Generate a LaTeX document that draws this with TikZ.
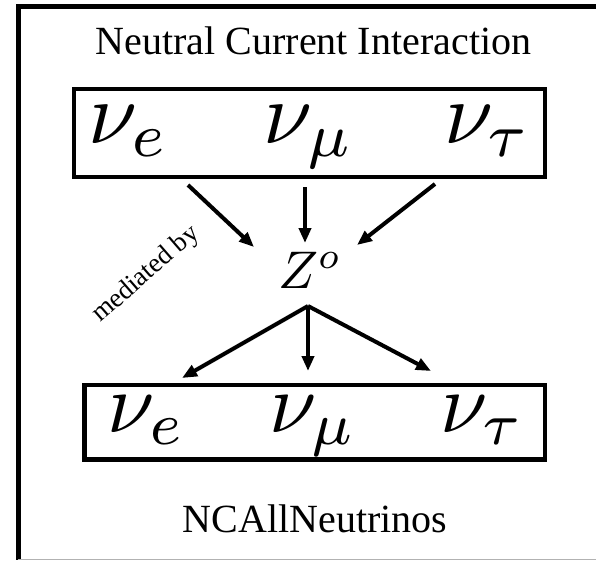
\documentclass[tikz,border=0pt]{standalone}
\usepackage{graphicx}
\usepackage{fontspec}
\setmainfont{Liberation Serif}
\usetikzlibrary{arrows.meta}
\newcommand{\bignu}[2]{\scalebox{#1}{$#2$}}
\tikzset{
  frameline/.style={line width=5pt},
  nubox/.style={draw, line width=4.5pt},
  arr/.style={line width=4pt, -{Triangle[length=15pt,width=12pt]}},
  bigtext/.style={font=\fontsize{40}{44}\selectfont, inner sep=0pt, anchor=base},
  nunode/.style={inner sep=0pt, anchor=base},
}
\begin{document}
\begin{tikzpicture}[x=1pt,y=-1pt]
\useasboundingbox (0,0) rectangle (596,560);
% outer frame (cropped)
\draw[frameline] (596,6) -- (18,6) -- (18,560);
\draw[line width=1pt, gray!60] (18,559) -- (596,559);
% title
\node[bigtext] (title) at (313.5,54) {Neutral Current Interaction};
% upper box
\draw[nubox] (74,89) rectangle (545,177);
\node[nunode] (ue) at (129,143) {\bignu{8.8}{\nu_e}};
\node[nunode] (um) at (309,143) {\bignu{8.8}{\nu_\mu}};
\node[nunode] (ut) at (488,143) {\bignu{8.8}{\nu_\tau}};
% Z
\node[nunode] (z) at (310,288) {\bignu{5.3}{Z^o}};
% arrow endpoints
\coordinate (a1s) at (188,185); \coordinate (a1e) at (254,247);
\coordinate (a2s) at (305,187); \coordinate (a2e) at (305,243);
\coordinate (a3s) at (435,184); \coordinate (a3e) at (357,245);
\draw[arr] (a1s) -- (a1e);
\draw[arr] (a2s) -- (a2e);
\draw[arr] (a3s) -- (a3e);
\coordinate (b0) at (308,306);
\coordinate (b1) at (182,378);
\coordinate (b2) at (308,371);
\coordinate (b3) at (431,371);
\draw[arr] (b0) -- (b1);
\draw[arr] (b0) -- (b2);
\draw[arr] (b0) -- (b3);
% mediated by
\node[font=\fontsize{27}{30}\selectfont, inner sep=0pt, anchor=base west, rotate=41] (med) at (100,323) {mediated by};
% lower box
\draw[nubox] (84.5,385) rectangle (545,459.5);
\node[nunode] (le) at (147,432) {\bignu{8.5}{\nu_e}};
\node[nunode] (lm) at (313,432) {\bignu{8.5}{\nu_\mu}};
\node[nunode] (lt) at (483,432) {\bignu{8.5}{\nu_\tau}};
% bottom label
\node[bigtext] (nc) at (315,532) {NCAllNeutrinos};
\end{tikzpicture}
\end{document}
